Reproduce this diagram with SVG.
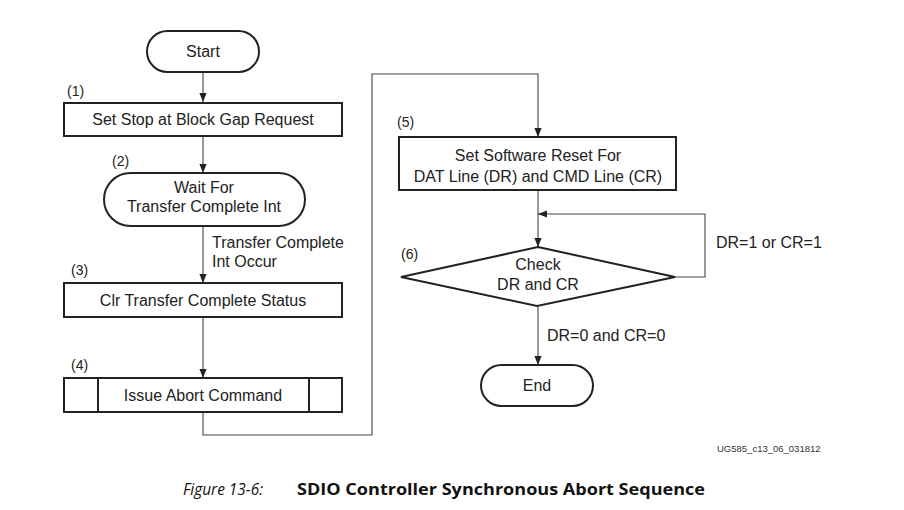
<svg xmlns="http://www.w3.org/2000/svg" width="904" height="510" viewBox="0 0 904 510">
<style>
.n{fill:#fff;stroke:#222;stroke-width:2}
.t{font-family:"Liberation Sans",Arial,sans-serif;font-size:16px;fill:#222;text-anchor:middle}
.l{font-family:"Liberation Sans",Arial,sans-serif;font-size:16px;fill:#222}
.k{font-family:"Liberation Sans",Arial,sans-serif;font-size:14px;fill:#222}
.c{fill:none;stroke:#444;stroke-width:1.1}
</style>
<defs>
<marker id="a" viewBox="0 0 10 10" refX="10" refY="5" markerWidth="9" markerHeight="9" markerUnits="userSpaceOnUse" orient="auto">
<path d="M0,1 L10,5 L0,9 z" fill="#222"/>
</marker>
</defs>
<rect width="904" height="510" fill="#fff"/>
<g id="connectors">
<path class="c" d="M203,72 V102" marker-end="url(#a)"/>
<path class="c" d="M203,136 V173" marker-end="url(#a)"/>
<path class="c" d="M203,226 V283" marker-end="url(#a)"/>
<path class="c" d="M203,317 V378" marker-end="url(#a)"/>
<path class="c" d="M203,412 V435 H372 V74 H538 V137" marker-end="url(#a)"/>
<path class="c" d="M538,190 V247" marker-end="url(#a)"/>
<path class="c" d="M675,277 H705 V214 H538" marker-end="url(#a)"/>
<path class="c" d="M538,306 V365" marker-end="url(#a)"/>
<text class="l" x="212" y="248">Transfer Complete</text>
<text class="l" x="212" y="267">Int Occur</text>
<text class="l" x="716" y="248">DR=1 or CR=1</text>
<text class="l" x="547" y="341">DR=0 and CR=0</text>
</g>
<g id="start">
<rect class="n" x="147" y="31" width="112" height="41" rx="20.5"/>
<text class="t" x="203" y="57">Start</text>
</g>
<g id="step1">
<text class="k" x="67" y="96">(1)</text>
<rect class="n" x="64" y="103" width="278" height="33"/>
<text class="t" x="203" y="125">Set Stop at Block Gap Request</text>
</g>
<g id="step2">
<text class="k" x="112" y="166">(2)</text>
<rect class="n" x="104" y="173" width="201" height="53" rx="26.5"/>
<text class="t" x="204" y="193">Wait For</text>
<text class="t" x="204" y="212">Transfer Complete Int</text>
</g>
<g id="step3">
<text class="k" x="71" y="275">(3)</text>
<rect class="n" x="64" y="283" width="278" height="34"/>
<text class="t" x="203" y="306">Clr Transfer Complete Status</text>
</g>
<g id="step4">
<text class="k" x="71" y="370">(4)</text>
<rect class="n" x="64" y="378" width="278" height="34"/>
<path class="n" d="M98,378 V412 M309,378 V412"/>
<text class="t" x="203" y="401">Issue Abort Command</text>
</g>
<g id="step5">
<text class="k" x="397" y="127">(5)</text>
<rect class="n" x="399" y="137" width="277" height="53"/>
<text class="t" x="538" y="161">Set Software Reset For</text>
<text class="t" x="538" y="182">DAT Line (DR) and CMD Line (CR)</text>
</g>
<g id="step6">
<text class="k" x="401" y="259">(6)</text>
<path class="n" d="M538,247 L675,277 L537,306 L401,277 Z"/>
<text class="t" x="538" y="270">Check</text>
<text class="t" x="538" y="290">DR and CR</text>
</g>
<g id="end">
<rect class="n" x="481" y="365" width="112" height="41" rx="20.5"/>
<text class="t" x="537" y="391">End</text>
</g>
<text x="717" y="452" style="font-family:'Liberation Sans',Arial,sans-serif;font-size:9.5px;fill:#333">UG585_c13_06_031812</text>
<text x="183" y="495" style="font-family:'Open Sans','Liberation Sans',sans-serif;font-size:16px;font-style:italic;fill:#111" textLength="80" lengthAdjust="spacingAndGlyphs">Figure 13-6:</text>
<text x="297" y="495" style="font-family:'Open Sans','Liberation Sans',sans-serif;font-size:16px;font-weight:bold;fill:#111" textLength="408" lengthAdjust="spacingAndGlyphs">SDIO Controller Synchronous Abort Sequence</text>
</svg>
